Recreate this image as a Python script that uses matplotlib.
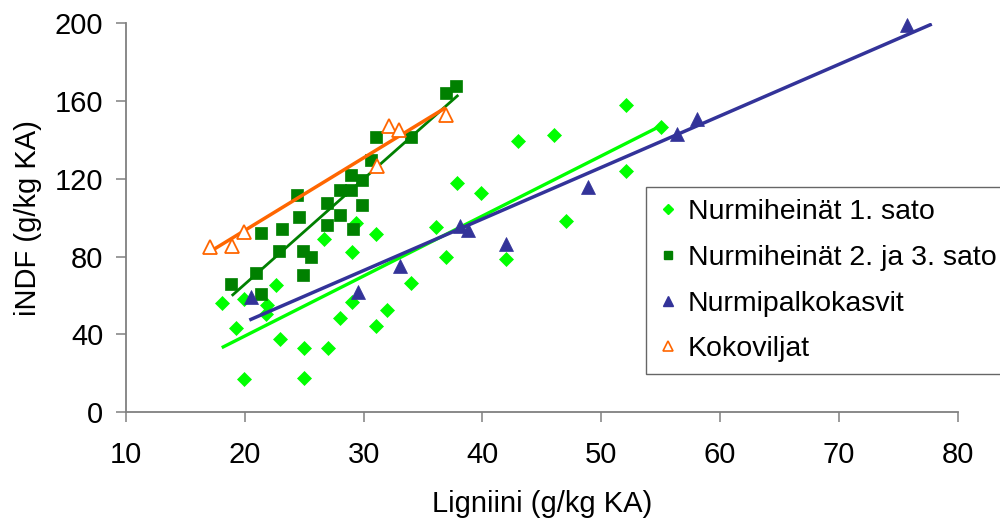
import matplotlib
matplotlib.use("Agg")
import matplotlib.pyplot as plt
from matplotlib.lines import Line2D

plt.rcParams['font.family'] = ['Liberation Sans', 'DejaVu Sans']

# --- Data ---
# Nurmiheinät 1. sato (light green diamonds)
s1_x = [18.1, 19.9, 19.3, 22.6, 21.9, 21.8, 23.0, 25.0, 25.0, 19.9, 27.0, 28.0,
        29.0, 31.0, 32.0, 34.0, 36.9, 29.0, 26.7, 29.4, 31.0, 36.1, 37.9, 39.9,
        43.0, 46.0, 52.1, 55.0, 52.1, 47.0, 42.0]
s1_y = [55.9, 58.0, 43.4, 65.2, 55.1, 50.4, 37.4, 33.1, 17.6, 16.8, 33.1, 48.5,
        56.8, 44.3, 52.6, 66.4, 79.6, 82.5, 88.9, 97.4, 91.8, 95.1, 117.7, 112.5,
        139.4, 142.5, 158.0, 146.5, 124.0, 98.1, 78.6]
# Nurmiheinät 2. ja 3. sato (dark green squares)
s2_x = [36.9, 37.8, 31.0, 34.0, 30.6, 28.9, 29.9, 24.4, 28.0, 28.9, 26.9, 29.9,
        24.6, 28.0, 21.4, 23.1, 26.9, 29.1, 22.9, 24.9, 25.6, 20.9, 24.9, 18.8, 21.4]
s2_y = [164.3, 167.7, 141.7, 141.3, 129.7, 122.1, 119.4, 111.8, 114.2, 114.2, 107.7, 106.7,
        100.5, 101.4, 92.3, 94.3, 96.2, 94.2, 83.0, 83.0, 79.8, 71.7, 70.5, 65.9, 60.6]
# Nurmipalkokasvit (blue triangles)
s3_x = [20.5, 29.5, 33.1, 38.1, 38.8, 42.0, 48.9, 56.4, 58.1, 75.7]
s3_y = [59.3, 61.6, 74.9, 95.9, 93.6, 86.4, 115.9, 143.0, 150.9, 199.1]
# Kokoviljat (orange open triangles)
s4_x = [17.1, 18.9, 19.9, 32.1, 33.0, 31.1, 36.9]
s4_y = [84.9, 85.4, 92.6, 147.2, 145.1, 126.6, 152.8]

# Linear trendlines (end points)
t1_x = [18.06, 54.61]; t1_y = [33.1, 146.0]
t2_x = [18.90, 37.97]; t2_y = [59.8, 163.1]
t3_x = [20.38, 77.82]; t3_y = [47.3, 199.6]
t4_x = [17.07, 36.91]; t4_y = [82.5, 156.6]

labels = ["Nurmiheinät 1. sato", "Nurmiheinät 2. ja 3. sato",
          "Nurmipalkokasvit", "Kokoviljat"]
xticks = [10, 20, 30, 40, 50, 60, 70, 80]
yticks = [0, 40, 80, 120, 160, 200]

c1 = "#00FF00"
c2 = "#008000"
c3 = "#333399"
c4 = "#FF6600"

FS = 21
LFS = 20.5

fig = plt.figure(figsize=(10, 5.19), dpi=100)
ax = fig.add_axes([0.126, 1 - 412 / 519, 0.8317, (412 - 23.3) / 519])

# trendlines
ax.plot(t1_x, t1_y, color=c1, lw=2.4, solid_capstyle='butt', zorder=3)
ax.plot(t2_x, t2_y, color=c2, lw=2.0, solid_capstyle='butt', zorder=3)
ax.plot(t3_x, t3_y, color=c3, lw=2.5, solid_capstyle='butt', zorder=3)
ax.plot(t4_x, t4_y, color=c4, lw=2.5, solid_capstyle='butt', zorder=3)

# markers
ax.plot(s1_x, s1_y, ls='none', marker='D', ms=6.9, mfc=c1, mec=c1, mew=0.5,
        clip_on=False, zorder=2)
ax.plot(s2_x, s2_y, ls='none', marker='s', ms=8.2, mfc=c2, mec=c2, mew=0.5,
        clip_on=False, zorder=2)
ax.plot(s3_x, s3_y, ls='none', marker='^', ms=9.4, mfc=c3, mec=c3, mew=0.5,
        clip_on=False, zorder=4)
ax.plot(s4_x, s4_y, ls='none', marker='^', ms=9.4, mfc='white', mec=c4, mew=1.3,
        clip_on=False, zorder=4)

ax.set_xlim(10, 80)
ax.set_ylim(0, 200)
ax.set_xticks(xticks)
ax.set_yticks(yticks)
ax.set_xticklabels([str(v) for v in xticks])
ax.set_yticklabels([str(v) for v in yticks])

for side in ['top', 'right']:
    ax.spines[side].set_visible(False)
for side in ['left', 'bottom']:
    ax.spines[side].set_color('#808080')
    ax.spines[side].set_linewidth(1.3)

ax.tick_params(axis='both', direction='out', length=7.2, width=1.1,
               color='#808080', labelsize=FS, labelcolor='black')
ax.tick_params(axis='y', pad=9)
ax.tick_params(axis='x', pad=14)

ax.set_xlabel("Ligniini (g/kg KA)", fontsize=FS, labelpad=15)
ax.set_ylabel("iNDF (g/kg KA)", fontsize=FS, labelpad=9)

handles = [
    Line2D([], [], ls='none', marker='D', ms=5.2, mfc=c1, mec=c1),
    Line2D([], [], ls='none', marker='s', ms=6.4, mfc=c2, mec=c2),
    Line2D([], [], ls='none', marker='^', ms=7.2, mfc=c3, mec=c3),
    Line2D([], [], ls='none', marker='^', ms=7.2, mfc='white', mec=c4, mew=1.2),
]
leg = fig.legend(handles, labels, loc='upper left',
                 bbox_to_anchor=(645.7 / 1000, 1 - 187.3 / 519),
                 fontsize=LFS, frameon=True, fancybox=False, shadow=False,
                 borderpad=0.42, handlelength=0.7, handletextpad=0.35,
                 labelspacing=0.69, borderaxespad=0.0)
leg.get_frame().set_edgecolor('#404040')
leg.get_frame().set_linewidth(1.0)

fig.savefig("out.png", dpi=100)
